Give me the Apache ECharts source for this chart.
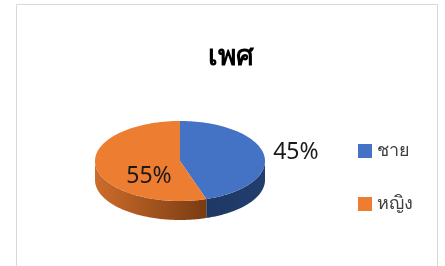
<!DOCTYPE html>
<html>
<head>
<meta charset="utf-8">
<script src="https://cdn.jsdelivr.net/npm/echarts@6/dist/echarts.min.js"></script>
<style>
html, body { margin: 0; padding: 0; background: #fff; }
#main { width: 445px; height: 266px; }
</style>
</head>
<body>
<div id="main"></div>
<script>
var categories = ['ชาย', 'หญิง']
var values = [45, 55]
var topColors = ['#4472C4', '#ED7D31']
var sideColors = [['#1F3864', '#223E6E'], ['#CD6C2B', '#7A3C12']]

var total = values.reduce(function (a, b) { return a + b }, 0)
var starts = []
var acc = 0
values.forEach(function (v) { starts.push(acc / total * Math.PI * 2); acc += v })

// ellipse of the tilted pie
var pie = { cx: 180, cy: 161, rx: 85, ry: 40, depth: 19 }
var labelPos = [{ k: 1.38, dy: 0 }, { k: 0.37, dy: 13 }]

function pt(a, dy) {
  return [pie.cx + pie.rx * Math.sin(a), pie.cy - pie.ry * Math.cos(a) + (dy || 0)]
}

function renderSlice(idx) {
  return function (params, api) {
    var a0 = starts[idx]
    var a1 = a0 + values[idx] / total * Math.PI * 2
    var n = 90
    var i
    var children = []
    // front wall, only the part facing us
    var s0 = Math.max(a0, Math.PI / 2)
    var s1 = Math.min(a1, Math.PI * 1.5)
    if (s1 > s0) {
      var side = []
      for (i = 0; i <= n; i++) side.push(pt(s0 + (s1 - s0) * i / n))
      for (i = n; i >= 0; i--) side.push(pt(s0 + (s1 - s0) * i / n, pie.depth))
      var c = sideColors[idx]
      children.push({
        type: 'polygon',
        shape: { points: side },
        style: {
          fill: new echarts.graphic.LinearGradient(0, 0, 1, 0, [
            { offset: 0, color: c[0] },
            { offset: 1, color: c[1] }
          ])
        },
        z2: 1
      })
    }
    var top = [[pie.cx, pie.cy]]
    for (i = 0; i <= n; i++) top.push(pt(a0 + (a1 - a0) * i / n))
    children.push({
      type: 'polygon',
      shape: { points: top },
      style: { fill: topColors[idx] },
      z2: 2
    })
    var mid = (a0 + a1) / 2
    var lp = labelPos[idx]
    children.push({
      type: 'text',
      x: pie.cx + pie.rx * lp.k * Math.sin(mid),
      y: pie.cy - pie.ry * lp.k * Math.cos(mid) + lp.dy,
      style: {
        text: Math.round(values[idx] / total * 100) + '%',
        fill: '#1a1a1a',
        font: '23px "Noto Sans", sans-serif',
        align: 'center',
        verticalAlign: 'middle'
      },
      z2: 3
    })
    return { type: 'group', children: children }
  }
}

var series = categories.map(function (name, idx) {
  return {
    type: 'custom',
    name: name,
    coordinateSystem: 'none',
    data: [values[idx]],
    itemStyle: { color: topColors[idx] },
    renderItem: renderSlice(idx),
    silent: true
  }
})

var myChart = echarts.init(document.getElementById('main'))
var option = {
  animation: false,
  title: {
    text: 'เพศ',
    left: 226,
    top: 38,
    textAlign: 'center',
    textStyle: { fontSize: 28, fontWeight: 'bold', color: '#000', fontFamily: '"Noto Sans", sans-serif' }
  },
  legend: {
    data: categories,
    orient: 'vertical',
    left: 353,
    top: 137,
    icon: 'rect',
    itemWidth: 14,
    itemHeight: 14,
    itemGap: 35,
    textStyle: { fontSize: 18, color: '#404040', fontFamily: '"Noto Sans", sans-serif' }
  },
  graphic: [{
    type: 'rect',
    shape: { x: 16.5, y: 4.5, width: 421, height: 280 },
    style: { fill: null, stroke: '#D9D9D9', lineWidth: 1 },
    silent: true
  }],
  series: series
}
myChart.setOption(option)
</script>
</body>
</html>
